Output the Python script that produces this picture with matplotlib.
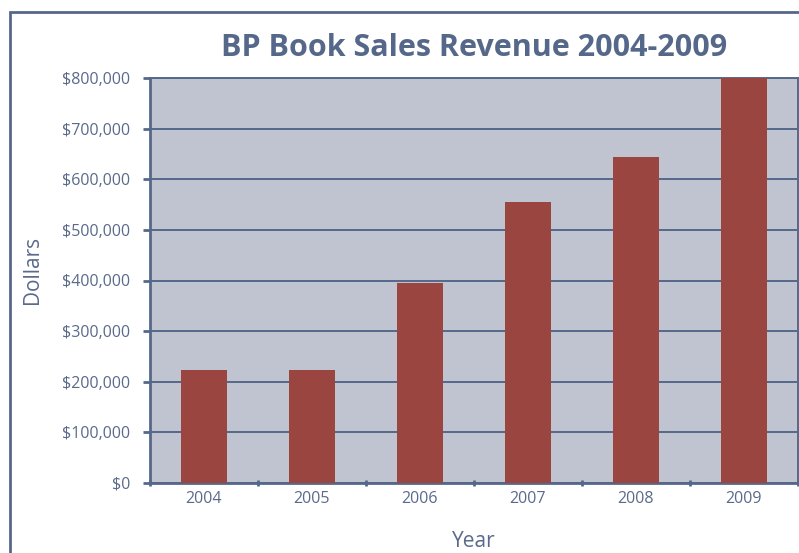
import matplotlib
matplotlib.use("Agg")
import matplotlib.pyplot as plt
from matplotlib.patches import Rectangle
from matplotlib.ticker import FuncFormatter, MultipleLocator, FixedLocator

years = ["2004", "2005", "2006", "2007", "2008", "2009"]
revenue = [223000, 223000, 395000, 555000, 644000, 800000]

line_col = "#56688a"
text_col = "#5a6a8c"
bg_col = "#c0c3d0"
bar_col = "#9a4540"

plt.rcParams['font.family'] = ['Open Sans', 'DejaVu Sans']

fig = plt.figure(figsize=(7.99, 5.53), dpi=100)

# outer frame
fig.patches.append(Rectangle((9.5 / 799, -0.1), 2, (553 - 12) / 553 + 0.1,
                             transform=fig.transFigure, fill=False,
                             edgecolor=line_col, lw=2))

ax = fig.add_axes([150 / 799, 70 / 553, 648 / 799, 405 / 553])
ax.set_facecolor(bg_col)

xs = range(len(years))
ax.bar(xs, revenue, width=0.42, color=bar_col, zorder=3)

ax.set_xlim(-0.5, len(years) - 0.5)
ax.set_ylim(0, 800000)

ax.yaxis.set_major_locator(MultipleLocator(100000))
ax.yaxis.set_major_formatter(FuncFormatter(lambda v, p: "${:,.0f}".format(v)))
ax.grid(axis="y", color=line_col, lw=1.4, zorder=1)

ax.set_xticks(list(xs))
ax.set_xticklabels(years)
ax.xaxis.set_minor_locator(FixedLocator([i - 0.5 for i in range(len(years) + 1)]))
ax.tick_params(axis="x", which="major", length=0, pad=6, labelsize=11.5, labelcolor=text_col)
ax.tick_params(axis="x", which="minor", length=5, width=2, color=line_col, direction="inout")
ax.tick_params(axis="y", length=5, width=2, color=line_col, labelsize=11.5, labelcolor=text_col, pad=9)

for s in ["left", "bottom", "right", "top"]:
    ax.spines[s].set_color(line_col)
    ax.spines[s].set_linewidth(2)
ax.spines["top"].set_linewidth(1.4)
ax.spines["right"].set_linewidth(1.4)

ax.set_ylabel("Dollars", fontsize=15, color=text_col)
ax.yaxis.set_label_coords(-0.165, 0.525)
ax.set_xlabel("Year", fontsize=15, color=text_col, labelpad=17)
ax.set_title("BP Book Sales Revenue 2004-2009", fontsize=22, fontweight="bold",
             color=line_col, pad=16)

fig.savefig("out.png", dpi=100)
